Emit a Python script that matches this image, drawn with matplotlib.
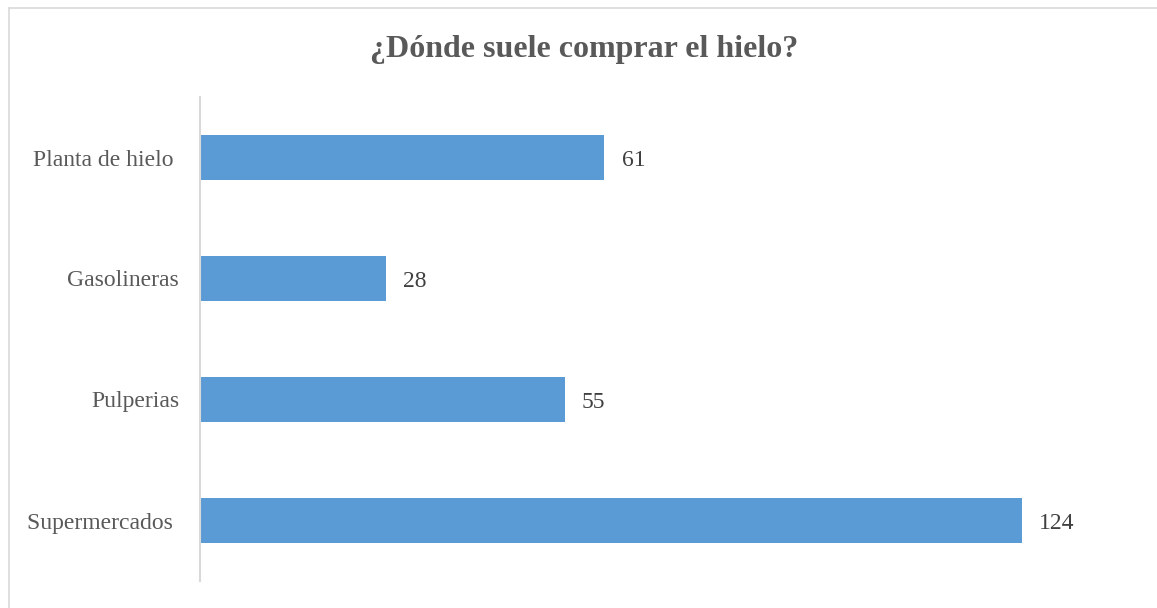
import matplotlib.pyplot as plt
from matplotlib.lines import Line2D

categorias = ['Supermercados ', 'Pulperias', 'Gasolineras', 'Planta de hielo ']
valores = [124, 55, 28, 61]
titulo = '¿Dónde suele comprar el hielo?'

plt.rcParams['font.family'] = ['Liberation Serif', 'DejaVu Serif']

W, H = 1157, 608
fig = plt.figure(figsize=(W / 100, H / 100), dpi=100)
fig.patch.set_facecolor('white')

# marco del grafico (solo arriba e izquierda se ven)
fig.lines.append(Line2D([8.5 / W, 8.5 / W], [0, 1 - 7.5 / H], transform=fig.transFigure,
                        color='#D9D9D9', linewidth=1.2))
fig.lines.append(Line2D([8.5 / W, 1], [1 - 7.5 / H, 1 - 7.5 / H], transform=fig.transFigure,
                        color='#D9D9D9', linewidth=1.2))

ax = fig.add_axes([200 / W, (H - 581) / H, (1128 - 200) / W, (581 - 97) / H])
ax.barh(range(len(categorias)), valores, height=0.365, color='#5B9BD5')
ax.set_xlim(0, 140)
ax.set_ylim(-0.5, len(categorias) - 0.5)
ax.set_yticks(range(len(categorias)))
ax.set_yticklabels(categorias, fontsize=17, color='#595959')
ax.tick_params(axis='y', length=0, pad=15)
ax.set_xticks([])
for s in ['top', 'right', 'bottom']:
    ax.spines[s].set_visible(False)
ax.spines['left'].set_color('#D9D9D9')
ax.spines['left'].set_linewidth(1.5)

for i, v in enumerate(valores):
    ax.text(v + 2.6, i - 0.025, str(v), va='center', ha='left', fontsize=17, color='#404040')

fig.text(584 / W, 1 - 49 / H, titulo, ha='center', va='center', fontsize=23,
         fontweight='bold', color='#595959')

plt.savefig('out.png', dpi=100)
